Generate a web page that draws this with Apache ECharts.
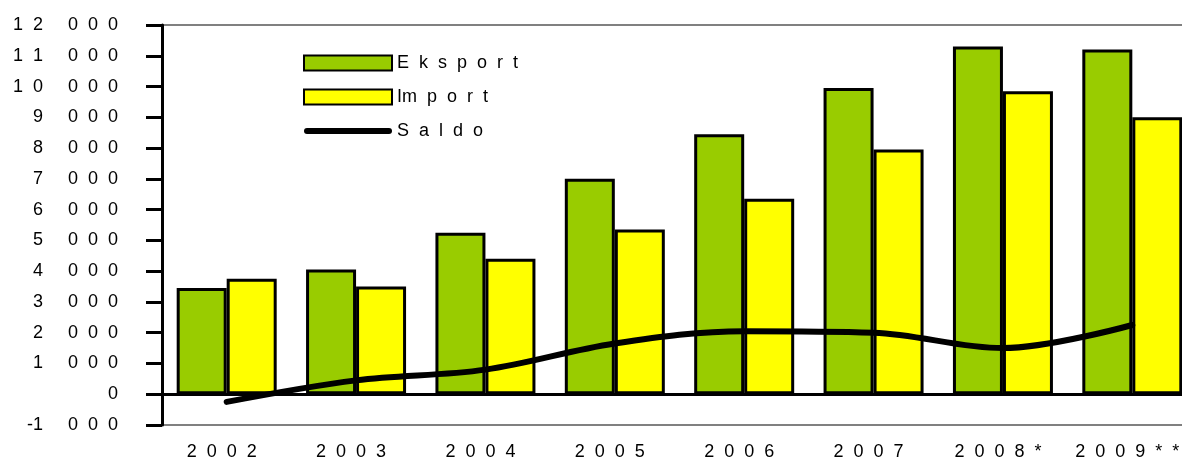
<!DOCTYPE html>
<html>
<head>
<meta charset="utf-8">
<script src="https://cdn.jsdelivr.net/npm/echarts@6/dist/echarts.min.js"></script>
<style>
  html, body { margin: 0; padding: 0; background: #fff; }
  #chart { width: 1182px; height: 462px; }
</style>
</head>
<body>
<div id="chart"></div>
<script>
// 数据
const years = ['2002', '2003', '2004', '2005', '2006', '2007', '2008*', '2009**']
const eksport = [3450, 4050, 5250, 7000, 8450, 9950, 11300, 11200]
const imports = [3750, 3500, 4400, 5350, 6350, 7950, 9850, 9000]
const saldo = [-250, 450, 800, 1650, 2050, 2000, 1500, 2250]
const legendLabels = { Eksport: 'E  k  s  p  o  r  t', Import: 'Im  p  o  r  t', Saldo: 'S  a  l  d  o' }

const font = 'Liberation Sans, Arial, sans-serif'

// 字母间距
const spaced = (s) => s.split('').join('  ')

const yLabel = (v) => {
  if (v === 0) return '0'
  const sign = v < 0 ? '-' : ''
  const th = String(Math.abs(v) / 1000)
  return sign + spaced(th) + '     0  0  0'
}

// 图例中的粗线（圆头）
const thickLine = 'path://M0,0M88,15M3,4.5L85,4.5A3,3,0,0,1,85,10.5L3,10.5A3,3,0,0,1,3,4.5Z'

const chart = echarts.init(document.getElementById('chart'))

chart.setOption({
  animation: false,
  grid: {
    left: 162,
    top: 25,
    width: 1035,
    bottom: 37,
    outerBoundsMode: 'none',
    containLabel: false,
    show: true,
    borderColor: '#808080',
    borderWidth: 2
  },
  legend: {
    orient: 'vertical',
    left: 298,
    top: 49,
    itemWidth: 88,
    itemHeight: 15,
    itemGap: 16,
    textStyle: { color: '#000', fontSize: 18, fontFamily: font },
    formatter: (name) => legendLabels[name],
    data: [
      { name: 'Eksport', icon: 'rect' },
      { name: 'Import', icon: 'rect' },
      { name: 'Saldo', icon: thickLine, itemStyle: { color: '#000', borderWidth: 0 } }
    ]
  },
  xAxis: [
    {
      type: 'category',
      data: years,
      position: 'bottom',
      axisLine: { onZero: true, lineStyle: { color: '#000', width: 3 } },
      axisTick: { length: 5, lineStyle: { color: '#000', width: 2 } },
      axisLabel: { show: false }
    },
    {
      type: 'category',
      data: years,
      position: 'bottom',
      axisLine: { show: false },
      axisTick: { show: false },
      axisLabel: {
        interval: 0,
        hideOverlap: false,
        margin: 18,
        color: '#000',
        fontSize: 18,
        fontFamily: font,
        formatter: (v) => spaced(v) + '  '
      }
    }
  ],
  yAxis: {
    type: 'value',
    min: -1000,
    max: 12000,
    interval: 1000,
    axisLine: { show: true, lineStyle: { color: '#000', width: 3 } },
    axisTick: { show: true, length: 16, lineStyle: { color: '#000', width: 3 } },
    splitLine: { show: false },
    axisLabel: {
      margin: 44,
      color: '#000',
      fontSize: 18,
      fontFamily: font,
      formatter: yLabel
    }
  },
  series: [
    {
      name: 'Eksport',
      type: 'bar',
      data: eksport,
      barWidth: 50,
      barGap: '0%',
      itemStyle: { color: '#99CC00', borderColor: '#000', borderWidth: 3 }
    },
    {
      name: 'Import',
      type: 'bar',
      data: imports,
      barWidth: 50,
      itemStyle: { color: '#FFFF00', borderColor: '#000', borderWidth: 3 }
    },
    {
      name: 'Saldo',
      type: 'line',
      data: saldo,
      smooth: 0.35,
      symbol: 'none',
      z: 5,
      lineStyle: { color: '#000', width: 6, cap: 'round' },
      itemStyle: { color: '#000' }
    }
  ]
})
</script>
</body>
</html>
